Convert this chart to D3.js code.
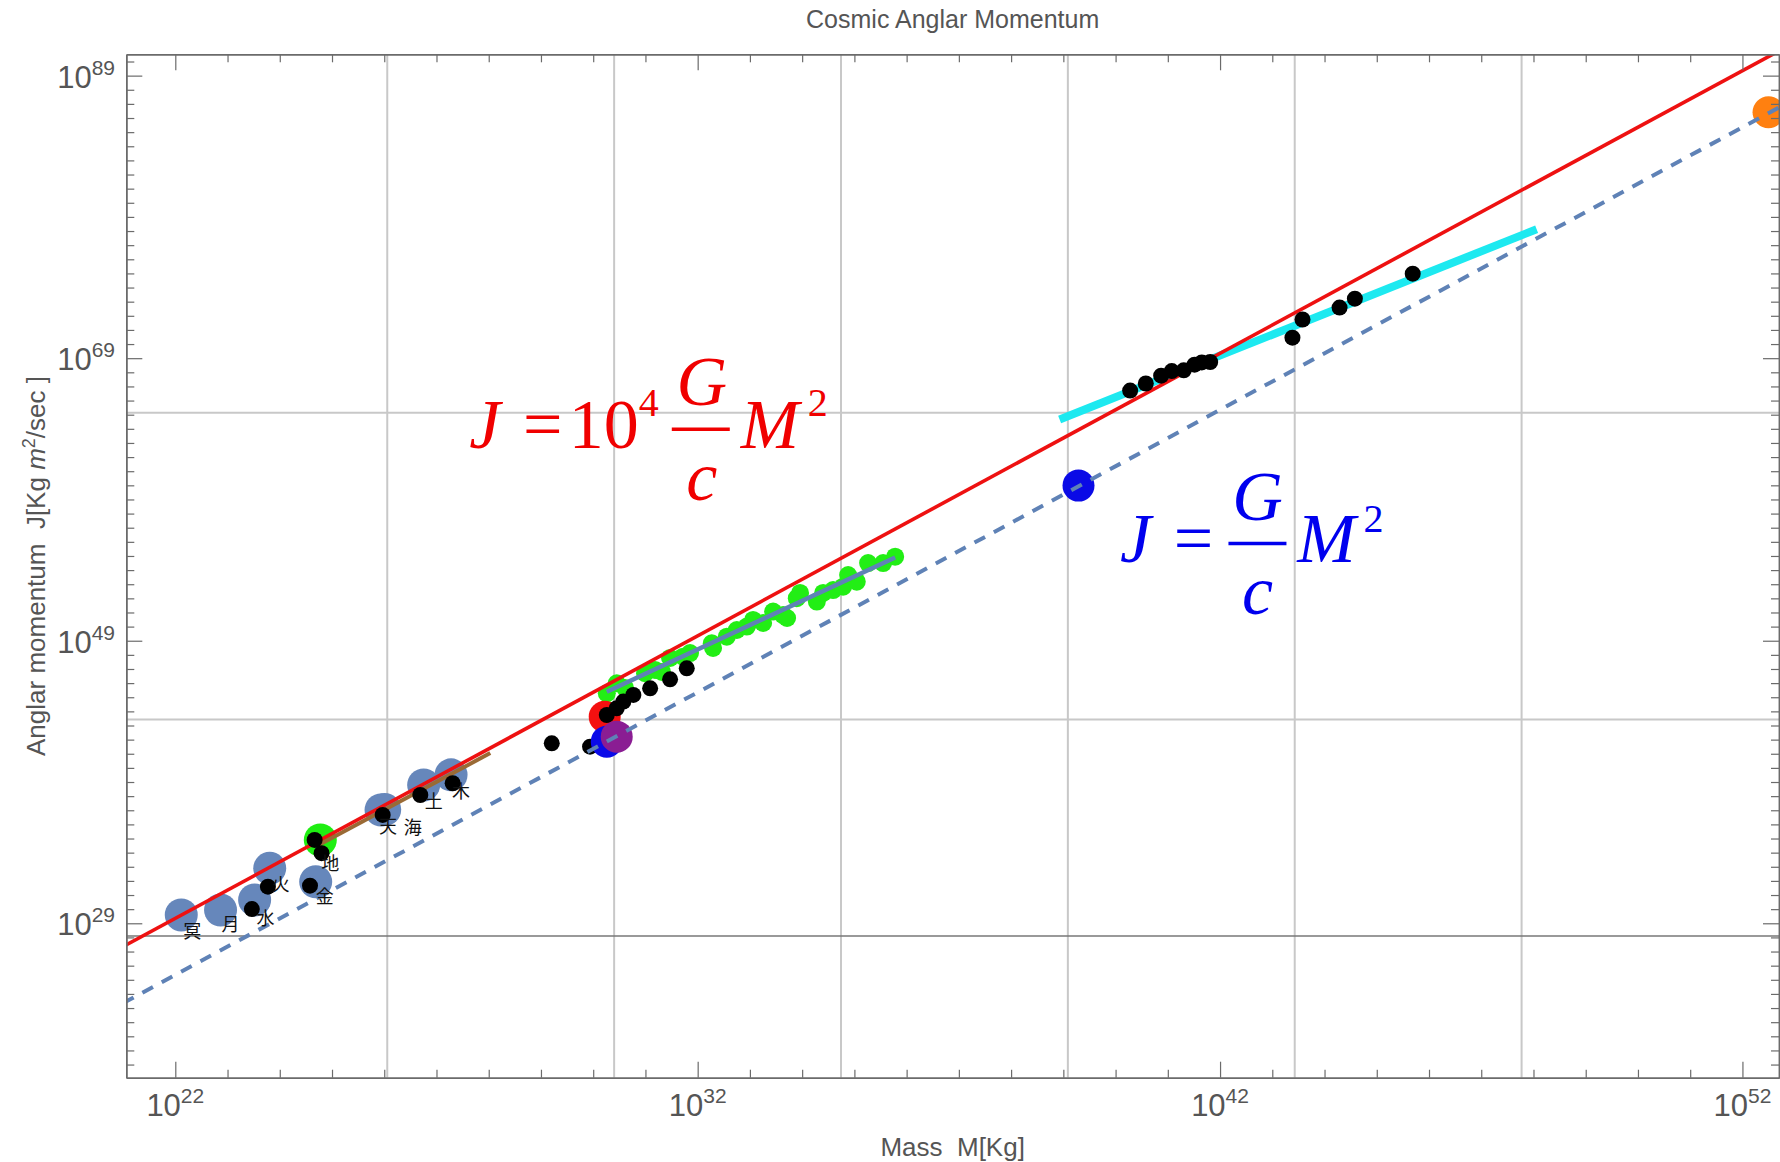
<!DOCTYPE html>
<html>
<head>
<meta charset="utf-8">
<script src="https://cdn.jsdelivr.net/npm/d3@7"></script>
<style>
  body { margin: 0; background: #fff; }
  text { white-space: pre; }
</style>
</head>
<body>
<script>
// planets (blue circles, earth drawn green)
let planetNames = ["冥", "月", "水", "火", "金", "地", "天", "海", "土", "木"];
let planetMass = [1.3e22, 7.35e22, 3.3e23, 6.42e23, 4.87e24, 5.97e24, 8.68e25, 1.02e26, 5.68e26, 1.9e27];
let planetJ = [3.9e29, 8.7e29, 4.5e30, 7.8e32, 8.7e31, 7.9e34, 1.05e37, 1.12e37, 6.2e38, 3.2e39];

// black dots (planet spins, stars, galaxies, clusters)
let blackMass = [2.92e23, 5.93e23, 3.79e24, 4.65e24, 6.31e24, 9.33e25, 4.9e26, 2.04e27,
  1.61e29, 8.71e29, 1.82e30, 2.82e30, 3.78e30, 5.87e30, 1.23e31, 2.96e31, 6.18e31,
  1.9e40, 3.79e40, 7.45e40, 1.19e41, 2.02e41, 3.25e41, 4.47e41, 6.47e41,
  2.43e43, 3.79e43, 1.94e44, 3.81e44, 4.88e45];
let blackJ = [1.02e30, 3.89e31, 4.57e31, 7.94e34, 9.12e33, 4.68e36, 1.2e38, 8.13e38,
  5.5e41, 3.16e41, 5.56e43, 1.66e44, 4.9e44, 1.45e45, 4.27e45, 1.86e46, 1.12e47,
  5.13e66, 1.62e67, 5.75e67, 1.23e68, 1.38e68, 3.47e68, 5.01e68, 5.37e68,
  2.82e70, 5.5e71, 3.8e72, 1.62e73, 9.55e74];

// green dots (stars)
let greenMass = [1.82e30, 2.82e30, 4.07e30, 9.84e30, 1.53e31, 2.08e31, 2.96e31, 5.25e31, 7.14e31,
  1.86e32, 1.97e32, 3.61e32, 5.61e32, 8.71e32, 1.15e33, 1.79e33, 2.78e33, 4.32e33, 5.15e33,
  7.89e33, 9.12e33, 1.91e34, 2.52e34, 3.91e34, 6.08e34, 7.59e34, 1.11e35, 1.83e35, 3.55e35, 6.03e35];
let greenJ = [1.91e45, 9.77e45, 4.57e45, 5.01e46, 8.51e46, 6.17e46, 6.03e47, 7.41e47, 1.35e48,
  6.61e48, 3.09e48, 1.95e49, 5.75e49, 1.0e50, 2.95e50, 1.82e50, 1.15e51, 6.61e50, 4.07e50,
  1.02e52, 2.4e52, 5.89e51, 2.4e52, 3.89e52, 6.76e52, 4.47e53, 1.51e53, 3.16e54, 3.16e54, 8.91e54];

// single large circles
let bigNames = ["sunRed", "sunBlue", "sunPurple", "blue", "orange"];
let bigMass = [1.66e30, 1.82e30, 2.82e30, 1.95e39, 3.16e52];
let bigJ = [4.17e43, 7.16e41, 1.62e42, 9.55e59, 2.57e86];

// fitted segments
let cyanMass = [8.49e38, 1.15e48];
let cyanJ = [4.57e64, 1.35e78];
let steelMass = [1.82e30, 6.03e35];
let steelJ = [2.45e45, 7.76e54];
let brownMass = [5.0e24, 1.07e28];
let brownJ = [2.82e34, 1.12e41];

// J = k G/c M^2
let G = 6.674e-11, cLight = 2.998e8;
let theoryK = [1e4, 1];
let theoryMass = [1e21, 1e53];

// ticks and grid
let xTickExp = d3.range(22, 53);
let xMajorExp = [22, 32, 42, 52];
let yTickExp = d3.range(19, 91);
let yMajorExp = [29, 49, 69, 89];
let gridMassLn = [60, 70, 80, 90, 100, 110];
let gridJLn = [100, 150];
let axisLineJ = 1.26e28;

function graficar() {
  let W = 1780, H = 1162;
  let left = 126.3, right = 1779, top = 54.3, bottom = 1077.7;
  let sans = "'Liberation Sans', Arial, sans-serif";
  let serif = "'Liberation Serif', 'Times New Roman', serif";
  let steel = "#5f82b6";

  let x = d3.scaleLog().domain([Math.pow(10, 21.062), Math.pow(10, 52.70)]).range([left, right]);
  let y = d3.scaleLog().domain([Math.pow(10, 18.07), Math.pow(10, 90.51)]).range([bottom, top]);
  let line = d3.line().x(d => x(d[0])).y(d => y(d[1]));
  let pw = e => +("1e" + e);

  let svg = d3.select("body").append("svg").attr("width", W).attr("height", H);
  svg.append("rect").attr("width", W).attr("height", H).attr("fill", "#fff");
  svg.append("defs").append("clipPath").attr("id", "plot")
    .append("rect").attr("x", left).attr("y", top).attr("width", right - left).attr("height", bottom - top);
  let plot = svg.append("g").attr("clip-path", "url(#plot)");

  // grid
  plot.selectAll(".gx").data(gridMassLn).enter().append("line")
    .attr("x1", d => x(Math.exp(d))).attr("x2", d => x(Math.exp(d)))
    .attr("y1", top).attr("y2", bottom)
    .attr("stroke", "#c8c8c8").attr("stroke-width", 2);
  plot.selectAll(".gy").data(gridJLn).enter().append("line")
    .attr("y1", d => y(Math.exp(d))).attr("y2", d => y(Math.exp(d)))
    .attr("x1", left).attr("x2", right)
    .attr("stroke", "#c8c8c8").attr("stroke-width", 2);
  plot.append("line")
    .attr("x1", left).attr("x2", right).attr("y1", y(axisLineJ)).attr("y2", y(axisLineJ))
    .attr("stroke", "#777").attr("stroke-width", 1.5);

  // planets
  let planets = planetNames.map((n, i) => ({ n: n, m: planetMass[i], j: planetJ[i] }));
  plot.selectAll(".planet").data(planets).enter().append("circle")
    .attr("cx", d => x(d.m)).attr("cy", d => y(d.j)).attr("r", 16.5)
    .attr("fill", d => d.n == "地" ? "#1fee12" : "#6687bb");

  // green stars
  plot.selectAll(".green").data(greenMass).enter().append("circle")
    .attr("cx", d => x(d)).attr("cy", (d, i) => y(greenJ[i])).attr("r", 9)
    .attr("fill", "#22ee15");

  let bigColor = { sunRed: "#f41010", sunBlue: "#0a0ae8", sunPurple: "#8a1d93", blue: "#0a0ae6", orange: "#ff8010" };
  let big = bigNames.map((n, i) => ({ n: n, m: bigMass[i], j: bigJ[i] }));
  let bigCircle = sel => sel.append("circle")
    .attr("cx", d => x(d.m)).attr("cy", d => y(d.j)).attr("r", 16)
    .attr("fill", d => bigColor[d.n]);
  plot.selectAll(".big1").data(big.filter(d => d.n != "sunBlue" && d.n != "sunPurple")).enter().call(bigCircle);

  // fitted segments
  let segs = [
    { m: brownMass, j: brownJ, color: "#9a6a35", w: 4 },
    { m: steelMass, j: steelJ, color: steel, w: 4.5 },
    { m: cyanMass, j: cyanJ, color: "#1de9f0", w: 8 }
  ];
  segs.forEach(s => {
    plot.append("path").datum(s.m.map((m, i) => [m, s.j[i]]))
      .attr("d", line).attr("fill", "none").attr("stroke", s.color).attr("stroke-width", s.w);
  });

  let theory = k => theoryMass.map(m => [m, k * G / cLight * m * m]);
  plot.append("path").datum(theory(theoryK[0]))
    .attr("d", line).attr("fill", "none").attr("stroke", "#ee1111").attr("stroke-width", 3.6);

  // black dots
  plot.selectAll(".black").data(blackMass).enter().append("circle")
    .attr("cx", d => x(d)).attr("cy", (d, i) => y(blackJ[i])).attr("r", 8)
    .attr("fill", "#000");

  plot.selectAll(".big2").data(big.filter(d => d.n == "sunBlue" || d.n == "sunPurple")).enter().call(bigCircle);

  plot.append("path").datum(theory(theoryK[1]))
    .attr("d", line).attr("fill", "none").attr("stroke", steel).attr("stroke-width", 4)
    .attr("stroke-dasharray", "12,10");

  // planet labels
  let off = { "冥": [11, 15], "月": [10, 13], "水": [11, 17], "火": [11, 15], "金": [9, 13],
    "地": [10, 22], "天": [7, 15], "海": [28, 16], "土": [10, 15], "木": [10, 15] };
  svg.selectAll(".plabel").data(planets).enter().append("text")
    .attr("x", d => x(d.m) + off[d.n][0]).attr("y", d => y(d.j) + off[d.n][1])
    .attr("text-anchor", "middle").attr("dominant-baseline", "central")
    .attr("font-family", "'Noto Sans CJK JP', sans-serif").attr("font-size", 18).attr("fill", "#111")
    .text(d => d.n);

  // formulas
  let formulas = [
    { m: Math.pow(10, 27.58), j: Math.pow(10, 62.62), color: "#f00000", parts: [
      { t: "J", dx: 18, dy: 0, it: 1 }, { t: "=", dx: 76, dy: 0 }, { t: "10", dx: 137, dy: 0 },
      { t: "4", dx: 182, dy: -32, fs: 40 }, { t: "G", dx: 235, dy: -43, it: 1 },
      { bar: [205, 263], dy: -19 }, { t: "c", dx: 235, dy: 52, it: 1 },
      { t: "M", dx: 303, dy: 0, it: 1 }, { t: "2", dx: 351, dy: -32, fs: 40 }] },
    { m: Math.pow(10, 40.055), j: Math.pow(10, 54.6), color: "#0000ee", parts: [
      { t: "J", dx: 17, dy: 0, it: 1 }, { t: "=", dx: 75, dy: 0 },
      { t: "G", dx: 139, dy: -42, it: 1 }, { bar: [110, 168], dy: -18 },
      { t: "c", dx: 139, dy: 52, it: 1 },
      { t: "M", dx: 208, dy: 0, it: 1 }, { t: "2", dx: 255, dy: -30, fs: 40 }] }
  ];
  formulas.forEach(f => {
    let g = svg.append("g").attr("transform", `translate(${x(f.m)},${y(f.j)})`);
    f.parts.forEach(p => {
      if (p.bar) {
        g.append("line").attr("x1", p.bar[0]).attr("x2", p.bar[1]).attr("y1", p.dy).attr("y2", p.dy)
          .attr("stroke", f.color).attr("stroke-width", 3.5);
      } else {
        g.append("text").attr("x", p.dx).attr("y", p.dy).attr("text-anchor", "middle")
          .attr("font-family", serif).attr("font-size", p.fs || 70)
          .attr("font-style", p.it ? "italic" : "normal").attr("fill", f.color).text(p.t);
      }
    });
  });

  // axes (frame)
  let frameAxis = (axis, exps, majors, len) => axis
    .tickValues(exps.filter(e => majors.includes(e) == (len > 10)).map(pw))
    .tickSize(-len).tickSizeOuter(0).tickFormat("");
  let axes = [
    { make: () => d3.axisBottom(x), t: `translate(0,${bottom})`, e: xTickExp, m: xMajorExp },
    { make: () => d3.axisTop(x), t: `translate(0,${top})`, e: xTickExp, m: xMajorExp },
    { make: () => d3.axisLeft(y), t: `translate(${left},0)`, e: yTickExp, m: yMajorExp },
    { make: () => d3.axisRight(y), t: `translate(${right},0)`, e: yTickExp, m: yMajorExp }
  ];
  axes.forEach(a => {
    [8, 16].forEach(len => {
      let g = svg.append("g").attr("transform", a.t).call(frameAxis(a.make(), a.e, a.m, len));
      g.select(".domain").attr("stroke", "#6b6b6b").attr("stroke-width", 1.5);
      g.selectAll(".tick line").attr("stroke", "#6b6b6b").attr("stroke-width", 1.2);
    });
  });

  // tick labels 10^n, one text each
  let tickLab = (xx, base, e, anchor) => {
    let t = svg.append("text").attr("x", xx).attr("y", base).attr("text-anchor", anchor)
      .attr("font-family", sans).attr("font-size", 31).attr("fill", "#555");
    t.append("tspan").text("10");
    t.append("tspan").attr("font-size", 21).attr("dy", -13).text(e);
  };
  xMajorExp.forEach(e => tickLab(x(pw(e)), 1116, e, "middle"));
  yMajorExp.forEach(e => tickLab(115, y(pw(e)) + 12, e, "end"));

  // titles
  svg.append("text").attr("x", (left + right) / 2).attr("y", 28).attr("text-anchor", "middle")
    .attr("font-family", sans).attr("font-size", 25).attr("fill", "#555").text("Cosmic Anglar Momentum");
  svg.append("text").attr("x", (left + right) / 2).attr("y", 1156).attr("text-anchor", "middle")
    .attr("font-family", sans).attr("font-size", 26).attr("fill", "#555").text("Mass  M[Kg]");
  let yl = svg.append("text").attr("transform", "translate(45,566) rotate(-90)").attr("text-anchor", "middle")
    .attr("font-family", sans).attr("font-size", 26).attr("fill", "#555");
  yl.append("tspan").text("Anglar momentum  J[Kg ");
  yl.append("tspan").attr("font-style", "italic").text("m");
  yl.append("tspan").attr("font-size", 18).attr("dy", -10).text("2");
  yl.append("tspan").attr("dy", 10).text("/sec ]");
}

graficar();
</script>
</body>
</html>
